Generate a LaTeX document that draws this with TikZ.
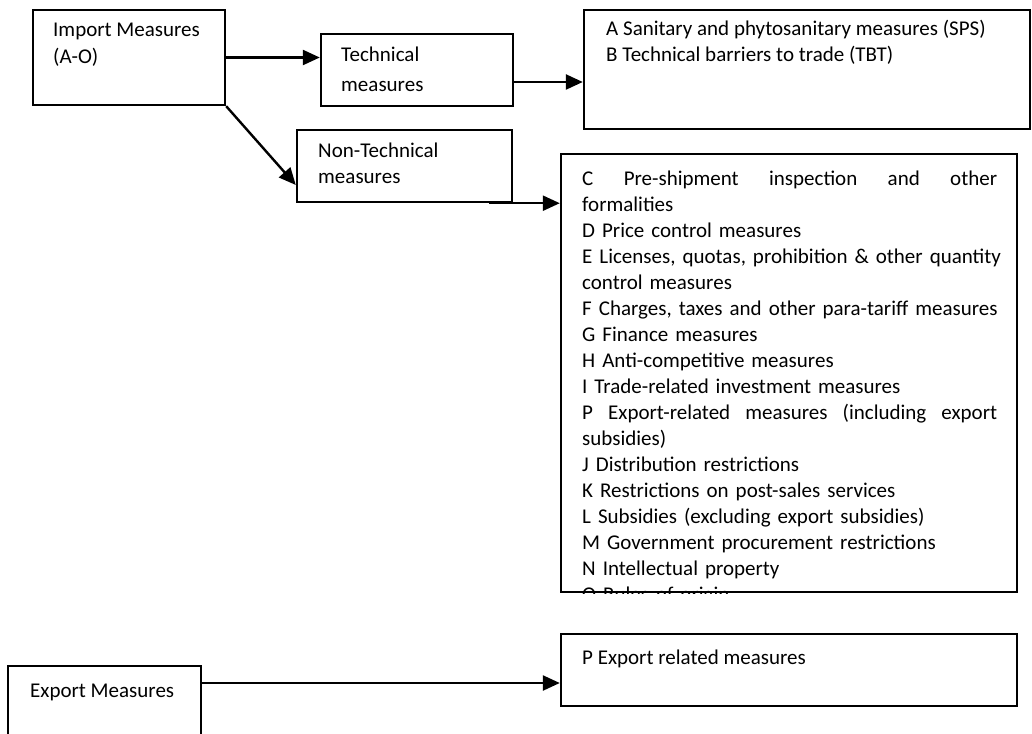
\documentclass[tikz,border=0pt]{standalone}
\usepackage{fontspec}
\setmainfont{Carlito}
\usetikzlibrary{arrows.meta}

\begin{document}
\begin{tikzpicture}[
    x=1pt, y=-1pt,
    frame/.style={
        rectangle, draw=black, line width=2.4pt, inner sep=0pt
    },
    txt/.style={
        inner sep=0pt, anchor=north west, align=left,
        font=\fontsize{21}{26}\selectfont,
        execute at begin node={\rule{0pt}{18pt}}
    },
    arrow/.style={-{Triangle[length=17pt,width=15pt]}, line width=2.4pt}
]
\clip (0,0) rectangle (1032,733);
\fill[white] (0,0) rectangle (1032,733);

% boxes
\node[frame, minimum width=192pt, minimum height=95pt] (imp) at (129,57.5) {};
\node[frame, minimum width=192pt, minimum height=72pt] (tech) at (417,70) {};
\node[frame, minimum width=215pt, minimum height=72pt] (nontech) at (404.5,166) {};
\node[frame, minimum width=446pt, minimum height=119pt] (sps) at (807,69.5) {};
\node[frame, minimum width=456pt, minimum height=438pt] (list) at (789,373) {};
\node[frame, minimum width=456pt, minimum height=72pt] (pexp) at (789,670) {};
\node[frame, minimum width=193pt, minimum height=94pt] (exp) at (104.5,713) {};

% texts
\node[txt, font=\fontsize{21}{27}\selectfont] (imptext) at (53,23) {Import Measures\\(A-O)};
\node[txt, font=\fontsize{21}{29.5}\selectfont] (techtext) at (341,47) {Technical\\measures};
\node[txt] (nontechtext) at (318,143) {Non-Technical\\measures};
\node[txt] (spstext) at (606,20) {A Sanitary and phytosanitary measures (SPS)\\B Technical barriers to trade (TBT)};
\begin{scope}
\clip (list.south west) rectangle (list.north east);
\node[txt, text width=425pt] (listtext) at (582,167.5) {%
\makebox[415pt][s]{C\hfill Pre-shipment\hfill inspection\hfill and\hfill other}\\
formalities\\
D Price control measures\\
E Licenses, quotas, prohibition \& other quantity\\
control measures\\
F Charges, taxes and other para-tariff measures\\
G Finance measures\\
H Anti-competitive measures\\
I Trade-related investment measures\\
\makebox[415pt][s]{P\hfill Export-related\hfill measures\hfill (including\hfill export}\\
subsidies)\\
J Distribution restrictions\\
K Restrictions on post-sales services\\
L Subsidies (excluding export subsidies)\\
M Government procurement restrictions\\
N Intellectual property\\
O Rules of origin};
\end{scope}
\node[txt] (pexptext) at (582,646) {P Export related measures};
\node[txt] (exptext) at (30,679) {Export Measures};

% connectors
\coordinate (techout) at ([yshift=-12pt]tech.east);
\coordinate (nontechout) at ([xshift=-24pt]nontech.south east);
\coordinate (expout) at ([yshift=30pt]exp.east);
\draw[arrow] (imp.east) -- (imp.east -| tech.west);
\draw[arrow] (techout) -- (techout -| sps.west);
\draw[arrow] (imp.south east) -- ([yshift=-19pt]nontech.west);
\draw[arrow] (nontechout) -- (nontechout -| list.west);
\draw[arrow] (expout) -- (expout -| pexp.west);
\end{tikzpicture}
\end{document}
